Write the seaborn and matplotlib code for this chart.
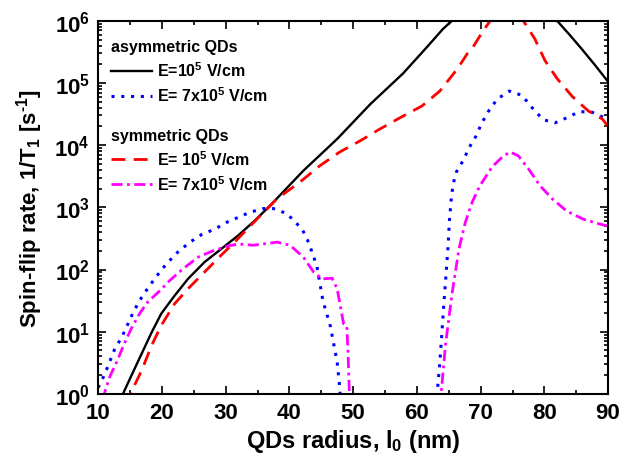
import numpy as np
import matplotlib
matplotlib.use("Agg")
import matplotlib.pyplot as plt
import seaborn as sns
from matplotlib.lines import Line2D
from matplotlib.ticker import MultipleLocator, LogLocator, NullFormatter

# Values (y given as log10 of the rate), one list per branch
black_x1 = [13.6, 13.9, 15.2, 16.8, 18.4, 19.9, 22.0, 24.1, 26.7, 29.3, 32.0, 34.5, 37.0, 42.2, 47.5, 52.7, 57.8, 61.6, 64.1, 65.5, 66.3]
black_y1 = [-0.2, 0.0, 0.29, 0.64, 0.99, 1.29, 1.58, 1.85, 2.12, 2.33, 2.55, 2.78, 3.03, 3.59, 4.10, 4.66, 5.15, 5.58, 5.87, 6.0, 6.15]
black_x2 = [81.2, 82.0, 84.0, 86.0, 88.0, 90.0]
black_y2 = [6.12, 6.0, 5.77, 5.53, 5.28, 5.02]

blue_x1 = [10.0, 10.3, 11.05, 12.6, 13.7, 14.7, 15.5, 16.5, 17.8, 19.15, 20.7, 22.5, 24.4, 26.2, 28.3, 30.2, 33.8, 35.9, 37.5, 39.6, 42.0, 43.0, 44.3, 45.3, 46.4, 47.5, 47.9, 48.1]
blue_y1 = [0.1, 0.16, 0.32, 0.72, 0.91, 1.13, 1.31, 1.5, 1.7, 1.89, 2.09, 2.28, 2.44, 2.56, 2.65, 2.76, 2.92, 2.98, 2.98, 2.9, 2.65, 2.44, 2.06, 1.48, 1.1, 0.51, 0.1, -0.2]
blue_x2 = [63.0, 63.6, 64.2, 64.9, 65.1, 65.4, 65.7, 66.2, 67.3, 68.2, 69.3, 70.1, 71.2, 72.6, 74.5, 76.5, 78.1, 79.8, 81.7, 83.5, 85.5, 87.5, 89.2, 90.0]
blue_y2 = [-0.2, 0.5, 1.4, 2.38, 2.78, 3.14, 3.38, 3.57, 3.76, 3.96, 4.15, 4.34, 4.54, 4.74, 4.87, 4.8, 4.6, 4.41, 4.36, 4.44, 4.54, 4.53, 4.45, 4.4]

red_x1 = [14.9, 15.2, 16.8, 18.4, 19.9, 22.0, 24.1, 26.7, 29.3, 31.4, 35.0, 38.1, 41.7, 44.8, 47.9, 51.1, 54.2, 57.7, 60.8, 63.6, 66.3, 67.9, 68.7, 70.4, 71.5, 72.3]
red_y1 = [-0.2, 0.03, 0.37, 0.78, 1.1, 1.45, 1.69, 1.96, 2.23, 2.44, 2.82, 3.14, 3.41, 3.67, 3.89, 4.07, 4.26, 4.46, 4.63, 4.87, 5.22, 5.47, 5.56, 5.84, 6.0, 6.12]
red_x2 = [76.0, 76.7, 78.5, 80.1, 82.0, 84.4, 86.9, 89.1, 90.0]
red_y2 = [6.12, 6.0, 5.71, 5.36, 5.07, 4.78, 4.55, 4.42, 4.3]

mag_x1 = [10.8, 11.05, 11.8, 12.9, 14.2, 15.2, 16.5, 17.8, 19.7, 21.2, 23.3, 25.7, 28.0, 30.4, 32.0, 34.3, 38.1, 40.1, 42.2, 43.8, 45.1, 46.7, 47.5, 48.5, 49.0, 49.2, 49.4, 49.5]
mag_y1 = [-0.1, 0.03, 0.27, 0.51, 0.83, 1.05, 1.29, 1.48, 1.66, 1.82, 2.01, 2.2, 2.3, 2.38, 2.41, 2.39, 2.44, 2.39, 2.2, 1.96, 1.85, 1.86, 1.69, 1.13, 1.1, 0.67, 0.03, -0.2]
mag_x2 = [63.5, 63.8, 64.5, 65.5, 66.6, 67.6, 68.7, 69.9, 71.8, 73.4, 74.6, 75.9, 77.5, 79.3, 81.2, 83.5, 86.1, 88.7, 90.0]
mag_y2 = [-0.2, 0.0, 0.8, 1.6, 2.33, 2.76, 3.09, 3.35, 3.65, 3.81, 3.89, 3.83, 3.62, 3.35, 3.14, 2.94, 2.81, 2.73, 2.7]

x_ticks = [10, 20, 30, 40, 50, 60, 70, 80, 90]

plt.rcParams['font.family'] = ['Liberation Sans', 'DejaVu Sans']
plt.rcParams['font.weight'] = 'bold'
plt.rcParams['axes.labelweight'] = 'bold'
plt.rcParams['mathtext.fontset'] = 'custom'
plt.rcParams['mathtext.rm'] = 'Liberation Sans:bold'
plt.rcParams['mathtext.it'] = 'Liberation Sans:bold'
plt.rcParams['mathtext.bf'] = 'Liberation Sans:bold'
plt.rcParams['mathtext.default'] = 'rm'

fig = plt.figure(figsize=(6.25, 4.64), dpi=100)
ax = fig.add_axes([0.157, 0.149, 0.816, 0.804])

# style for each curve
styles = {
    'black': dict(color='black', linestyle='-', lw=1.7),
    'blue': dict(color='#0000ff', linestyle=(0, (1, 2.2)), lw=2.2),
    'red': dict(color='#ff0000', linestyle=(0, (5, 3)), lw=2.0),
    'mag': dict(color='#ff00ff', linestyle=(0, (4, 1.6, 1, 1.6)), lw=2.0),
}

branches = [
    ('black', black_x1, black_y1), ('black', black_x2, black_y2),
    ('blue', blue_x1, blue_y1), ('blue', blue_x2, blue_y2),
    ('red', red_x1, red_y1), ('red', red_x2, red_y2),
    ('mag', mag_x1, mag_y1), ('mag', mag_x2, mag_y2),
]

for name, xs, ys in branches:
    sns.lineplot(x=xs, y=10 ** np.array(ys), ax=ax, estimator=None, sort=False, **styles[name])

ax.set_yscale('log')
ax.set_xlim(10, 90)
ax.set_ylim(1, 1e6)
ax.set_xticks(x_ticks)
ax.xaxis.set_minor_locator(MultipleLocator(5))
ax.yaxis.set_major_locator(LogLocator(base=10, numticks=10))
ax.yaxis.set_minor_locator(LogLocator(base=10, subs=np.arange(2, 10), numticks=20))
ax.yaxis.set_minor_formatter(NullFormatter())

ax.tick_params(which='both', direction='in', top=True, right=True, width=1.2)
ax.tick_params(which='major', length=6, labelsize=16, pad=6)
ax.tick_params(which='minor', length=3)
for s in ax.spines.values():
    s.set_linewidth(1.5)

ax.set_xlabel('QDs radius, l$_0$ (nm)', fontsize=17, labelpad=3)
ax.set_ylabel(r'Spin-flip rate, 1/T$_1$ [s$^{\text{-1}}$]', fontsize=16, labelpad=7)

# legends: two groups with headings
h1 = [Line2D([], [], **styles['black']), Line2D([], [], **styles['blue'])]
h2 = [Line2D([], [], **styles['red']), Line2D([], [], **styles['mag'])]
leg_kw = dict(loc='upper left', frameon=False, fontsize=11.5,
              title_fontproperties={'size': 11.5, 'weight': 'bold'},
              alignment='left', handlelength=2.6, handletextpad=0.3, labelspacing=0.4,
              borderpad=0.3)
leg1 = ax.legend(h1, ['E=10$^5$ V/cm', 'E= 7x10$^5$ V/cm'], title='asymmetric QDs',
                 bbox_to_anchor=(0.0, 0.985), **leg_kw)
ax.add_artist(leg1)
leg2 = ax.legend(h2, ['E= 10$^5$ V/cm', 'E= 7x10$^5$ V/cm'], title='symmetric QDs',
                 bbox_to_anchor=(0.0, 0.748), **leg_kw)

fig.savefig('out.png', dpi=100)
